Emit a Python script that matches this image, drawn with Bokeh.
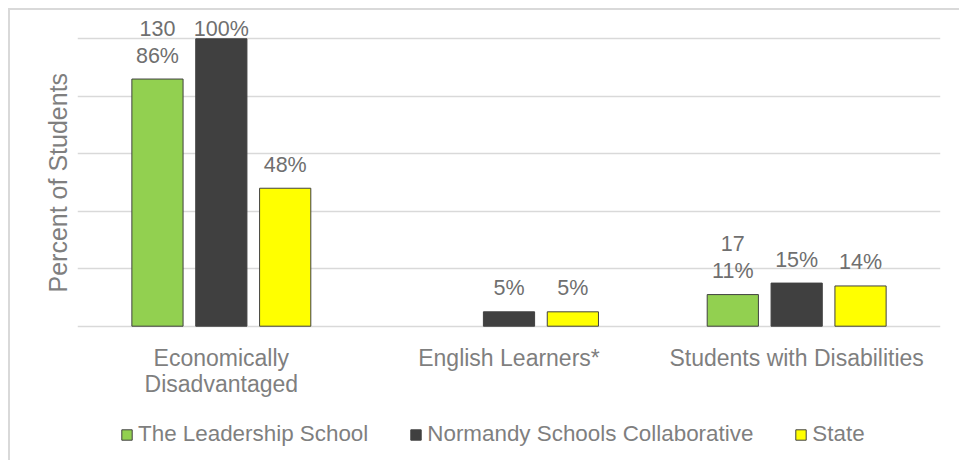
from bokeh.plotting import figure
from bokeh.models import ColumnDataSource, FactorRange, LabelSet, Legend, LegendItem, FixedTicker, Title
from bokeh.core.properties import value
from bokeh.transform import dodge
from bokeh.embed import file_html
from bokeh.resources import INLINE

categories = ["Economically\nDisadvantaged", "English Learners*", "Students with Disabilities"]
series_names = ["The Leadership School", "Normandy Schools Collaborative", "State"]
leadership = [86, None, 11]
normandy = [100, 5, 15]
state = [48, 5, 14]
leadership_counts = ["130", "", "17"]
y_ticks = [0, 20, 40, 60, 80, 100]
colors = ["#92D050", "#404040", "#FFFF00"]

FONT = "Liberation Sans"
TXT = "#7f7f7f"
LBL = "#6f6f6f"

p = figure(x_range=FactorRange(*categories, range_padding=0), y_range=(-46.73, 109.15),
           frame_width=863, frame_height=448, output_backend="svg", toolbar_location=None,
           min_border_left=67, min_border_right=19, min_border_top=2, min_border_bottom=0,
           outline_line_color=None,
           styles={"border-left": "2px solid #d9d9d9", "border-top": "2px solid #d9d9d9",
                   "margin-left": "8px", "margin-top": "8px"})
p.title.visible = False

p.xgrid.grid_line_color = None
p.ygrid.grid_line_color = "#d9d9d9"
p.ygrid.grid_line_width = 1.5
p.yaxis.ticker = FixedTicker(ticks=y_ticks)
p.yaxis.visible = False

p.add_layout(Title(text="Percent of Students", align="left", offset=168, standoff=12,
                   text_font=FONT, text_font_size="25px", text_font_style="normal",
                   text_color=TXT), "left")

p.xaxis.axis_line_color = None
p.xaxis.major_tick_line_color = None
p.xaxis.minor_tick_line_color = None
p.xaxis.major_tick_out = 0
p.xaxis.major_tick_in = 0
p.xaxis.major_label_text_font = FONT
p.xaxis.major_label_text_font_size = "23px"
p.xaxis.major_label_text_color = TXT
p.xaxis.major_label_text_line_height = 1.03
p.xaxis.major_label_standoff = -116

offsets = [-0.222, 0.0, 0.222]
all_series = [leadership, normandy, state]
items = []
for name, vals, off, col in zip(series_names, all_series, offsets, colors):
    xs = [c for c, v in zip(categories, vals) if v is not None]
    ys = [v for v in vals if v is not None]
    labels = [f"{v}%" for v in ys]
    # labels that would leave the chart area are pulled down next to the bar top
    yoff = [3 if v >= 100 else 16.5 for v in ys]
    src = ColumnDataSource(dict(x=xs, top=ys, label=labels, yoff=yoff))
    r = p.vbar(x=dodge("x", off, range=p.x_range), top="top", width=0.178, source=src,
               fill_color=col, line_color="#404040", line_width=1)
    items.append(LegendItem(label=name, renderers=[r]))
    p.add_layout(LabelSet(x=dodge("x", off, range=p.x_range), y="top", text="label", source=src,
                          text_align="center", text_baseline="alphabetic", y_offset="yoff",
                          text_font=value(FONT), text_font_size=value("21.5px"), text_color=LBL))

cnt_x = [c for c, t in zip(categories, leadership_counts) if t]
cnt_y = [v for v, t in zip(leadership, leadership_counts) if t]
cnt_t = [t for t in leadership_counts if t]
csrc = ColumnDataSource(dict(x=cnt_x, top=cnt_y, label=cnt_t))
p.add_layout(LabelSet(x=dodge("x", offsets[0], range=p.x_range), y="top", text="label", source=csrc,
                      text_align="center", text_baseline="alphabetic", y_offset=43.5,
                      text_font=value(FONT), text_font_size=value("21.5px"), text_color=LBL))

legend = Legend(items=items, orientation="horizontal", location=(43, 13),
                glyph_width=13, glyph_height=13, label_standoff=5, spacing=41,
                padding=0, margin=0, border_line_color=None, background_fill_alpha=0,
                label_text_font=FONT, label_text_font_size="22.4px", label_text_color=TXT)
p.add_layout(legend, "center")

open("out.html", "w").write(file_html(p, INLINE))
